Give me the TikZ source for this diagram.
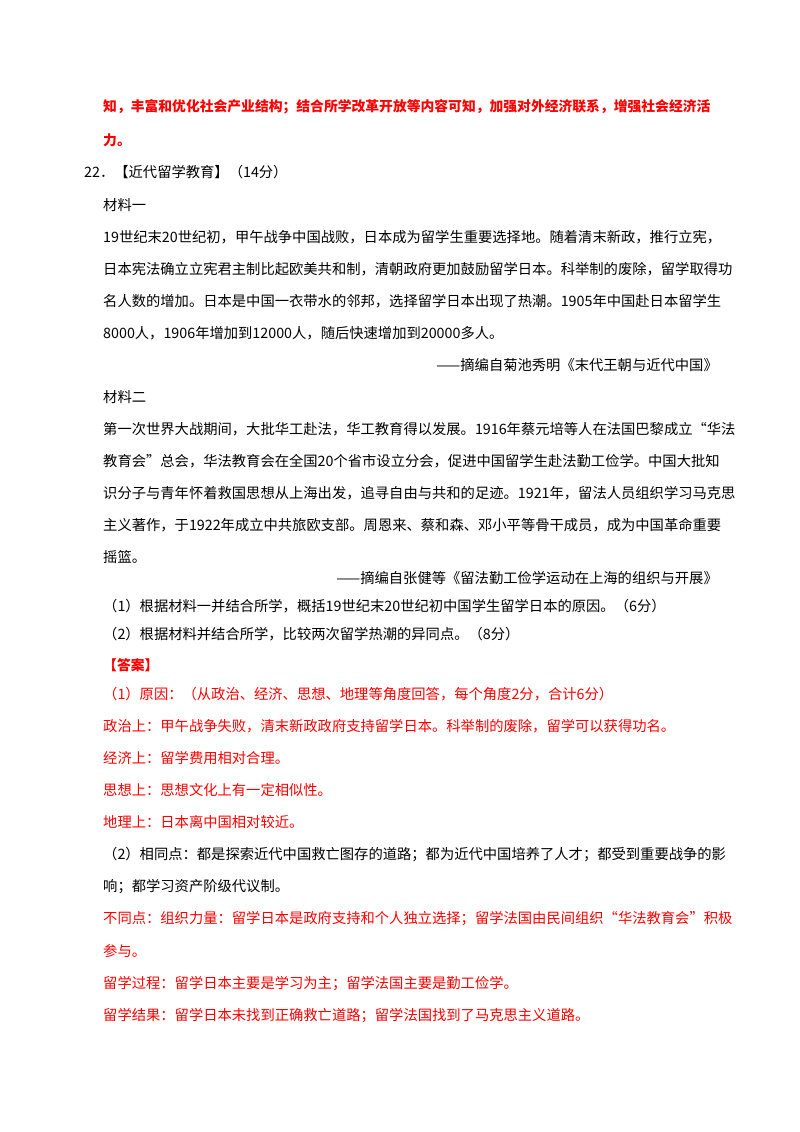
\documentclass[tikz,border=0pt]{standalone}
\usepackage{fontspec}
\setmainfont{Noto Sans CJK SC}
\begin{document}
\begin{tikzpicture}[x=1pt,y=-1pt,
  tl/.style={anchor=west,inner sep=0pt,font=\fontsize{14.3}{16}\selectfont},
  tr/.style={anchor=east,inner sep=0pt,font=\fontsize{14.3}{16}\selectfont},
  rb/.style={tl,text=red,font=\fontsize{13.8}{16}\selectfont\bfseries},
  rd/.style={tl,text=red}]
\fill[white] (0,0) rectangle (800,1132);
\useasboundingbox (0,0) rectangle (800,1132);
\node[rb] (l1) at (103,107) {知，丰富和优化社会产业结构；结合所学改革开放等内容可知，加强对外经济联系，增强社会经济活};
\node[rb] (l2) at (103,140) {力。};
\node[tl] (l3) at (84,172) {22．【近代留学教育】（14分）};
\node[tl] (l4) at (103,205) {材料一};
\node[tl] (l5) at (103,237) {19世纪末20世纪初，甲午战争中国战败，日本成为留学生重要选择地。随着清末新政，推行立宪，};
\node[tl] (l6) at (103,269) {日本宪法确立立宪君主制比起欧美共和制，清朝政府更加鼓励留学日本。科举制的废除，留学取得功};
\node[tl] (l7) at (103,301) {名人数的增加。日本是中国一衣带水的邻邦，选择留学日本出现了热潮。1905年中国赴日本留学生};
\node[tl] (l8) at (103,333) {8000人，1906年增加到12000人，随后快速增加到20000多人。};
\node[tr] (l9) at (718,365) {——摘编自菊池秀明《末代王朝与近代中国》};
\node[tl] (l10) at (103,397) {材料二};
\node[tl] (l11) at (103,429) {第一次世界大战期间，大批华工赴法，华工教育得以发展。1916年蔡元培等人在法国巴黎成立“华法};
\node[tl] (l12) at (103,461) {教育会”总会，华法教育会在全国20个省市设立分会，促进中国留学生赴法勤工俭学。中国大批知};
\node[tl] (l13) at (103,493) {识分子与青年怀着救国思想从上海出发，追寻自由与共和的足迹。1921年，留法人员组织学习马克思};
\node[tl] (l14) at (103,525) {主义著作，于1922年成立中共旅欧支部。周恩来、蔡和森、邓小平等骨干成员，成为中国革命重要};
\node[tl] (l15) at (103,557) {摇篮。};
\node[tr] (l16) at (718,578) {——摘编自张健等《留法勤工俭学运动在上海的组织与开展》};
\node[tl] (l17) at (103,606) {（1）根据材料一并结合所学，概括19世纪末20世纪初中国学生留学日本的原因。（6分）};
\node[tl] (l18) at (103,634) {（2）根据材料并结合所学，比较两次留学热潮的异同点。（8分）};
\node[rb] (l19) at (103,665) {【答案】};
\node[rd] (l20) at (103,694) {（1）原因：（从政治、经济、思想、地理等角度回答，每个角度2分，合计6分）};
\node[rd] (l21) at (103,726) {政治上：甲午战争失败，清末新政政府支持留学日本。科举制的废除，留学可以获得功名。};
\node[rd] (l22) at (103,758) {经济上：留学费用相对合理。};
\node[rd] (l23) at (103,790) {思想上：思想文化上有一定相似性。};
\node[rd] (l24) at (103,822) {地理上：日本离中国相对较近。};
\node[tl] (l25) at (103,855) {（2）相同点：都是探索近代中国救亡图存的道路；都为近代中国培养了人才；都受到重要战争的影};
\node[tl] (l26) at (103,887) {响；都学习资产阶级代议制。};
\node[rd] (l27) at (103,919) {不同点：组织力量：留学日本是政府支持和个人独立选择；留学法国由民间组织“华法教育会”积极};
\node[rd] (l28) at (103,951) {参与。};
\node[rd] (l29) at (103,984) {留学过程：留学日本主要是学习为主；留学法国主要是勤工俭学。};
\node[rd] (l30) at (103,1016) {留学结果：留学日本未找到正确救亡道路；留学法国找到了马克思主义道路。};
\end{tikzpicture}
\end{document}
